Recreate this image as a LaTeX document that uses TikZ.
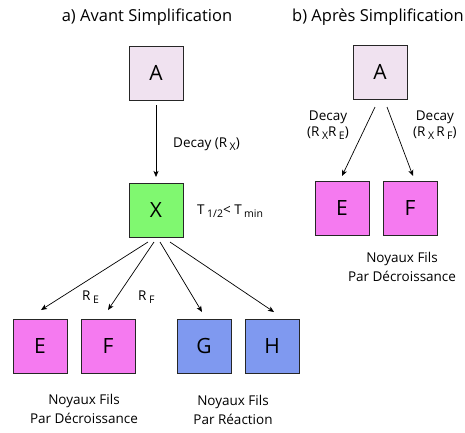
\documentclass[tikz,border=0pt]{standalone}
\usepackage{fontspec}
\setmainfont{Open Sans}
\usetikzlibrary{arrows.meta}
\definecolor{cA}{RGB}{240,226,240}
\definecolor{cX}{RGB}{128,248,112}
\definecolor{cM}{RGB}{245,122,240}
\definecolor{cB}{RGB}{127,153,240}
\tikzset{
  box/.style={draw=black!85, line width=0.9pt, minimum size=54pt, inner sep=0pt, font=\fontsize{21}{21}\selectfont},
  arr/.style={-{Stealth[length=6pt,width=5pt,inset=1.5pt]}, line width=0.7pt},
  lbl/.style={font=\fontsize{13.5}{19.5}\selectfont, inner sep=0pt, align=center},
  ttl/.style={font=\fontsize{16.5}{18}\selectfont, inner sep=0pt},
}
\newcommand{\sbs}[1]{\hspace{2.5pt}\raisebox{-0.4ex}{\fontsize{10.5}{10.5}\selectfont #1}}
\begin{document}
\begin{tikzpicture}[x=1pt,y=-1pt]
\useasboundingbox (0,0) rectangle (465,432);
% titles
\node[ttl] (ta) at (147,17) {a) Avant Simplification};
\node[ttl] (tb) at (378,17) {b) Après Simplification};
% left diagram
\node[box, fill=cA] (A) at (156,73) {A};
\node[box, fill=cX] (X) at (156,210) {X};
\node[box, fill=cM] (E) at (40,346) {E};
\node[box, fill=cM] (F) at (108,346) {F};
\node[box, fill=cB] (G) at (204,346) {G};
\node[box, fill=cB] (H) at (272,346) {H};
\coordinate (a0) at (156,105);
\coordinate (a1) at (156,177);
\draw[arr] (a0) -- (a1);
\node[lbl, anchor=west] (dx) at (173,144) {Decay (R\sbs{X})};
\node[lbl, anchor=west] (tm) at (197,211) {T\sbs{1/2}< T\sbs{min}};
\coordinate (x1) at (148,242);
\coordinate (x2) at (154,242);
\coordinate (x3) at (160,242);
\coordinate (x4) at (170,242);
\coordinate (e1) at (41,310);
\coordinate (f1) at (108,310);
\coordinate (g1) at (202,312);
\coordinate (h1) at (274,312);
\draw[arr] (x1) -- (e1);
\draw[arr] (x2) -- (f1);
\draw[arr] (x3) -- (g1);
\draw[arr] (x4) -- (h1);
\node[lbl, anchor=west] (re) at (82,297) {R\sbs{E}};
\node[lbl, anchor=west] (rf) at (138,297) {R\sbs{F}};
\node[lbl] (nd) at (84,409) {Noyaux Fils\\Par Décroissance};
\node[lbl] (nr) at (233,410) {Noyaux Fils\\Par Réaction};
% right diagram
\node[box, fill=cA] (A2) at (380,72) {A};
\node[box, fill=cM] (E2) at (342,208) {E};
\node[box, fill=cM] (F2) at (410,208) {F};
\coordinate (b1) at (375,107);
\coordinate (b2) at (387,107);
\coordinate (e2) at (342,176);
\coordinate (f2) at (413,176);
\draw[arr] (b1) -- (e2);
\draw[arr] (b2) -- (f2);
\node[lbl, anchor=west, font=\fontsize{13.5}{15.5}\selectfont] (dl) at (307,125) {Decay\\(R\sbs{X}R\sbs{E})};
\node[lbl, anchor=west, font=\fontsize{13.5}{15.5}\selectfont] (dr) at (413,125) {Decay\\(R\sbs{X}\,R\sbs{F})};
\node[lbl] (nd2) at (402,267) {Noyaux Fils\\Par Décroissance};
\end{tikzpicture}
\end{document}
